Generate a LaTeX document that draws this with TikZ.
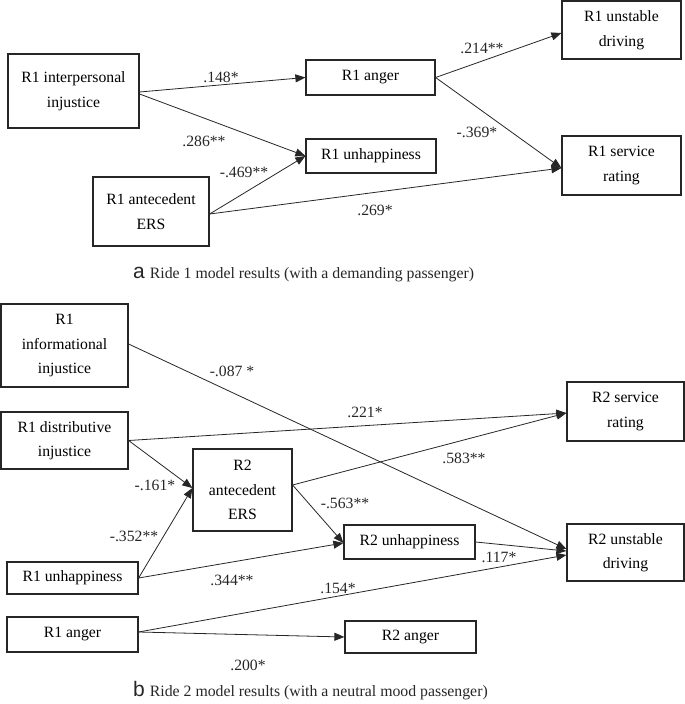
\documentclass[tikz,border=0pt]{standalone}
\usepackage{fontspec}
\setmainfont{Liberation Serif}
\setsansfont{Liberation Sans}
\usetikzlibrary{arrows.meta}
\begin{document}
\begin{tikzpicture}[x=1pt,y=-1pt,
  box/.style={draw=black!85,line width=1.2pt,align=center,inner sep=0pt,
    font=\fontsize{15.7}{24.5}\selectfont},
  lab/.style={inner sep=0pt,font=\fontsize{15.7}{18}\selectfont,text=black!85},
  arr/.style={draw=black!85,line width=0.8pt,-{Triangle[length=10pt,width=8pt]}},
  captext/.style={inner sep=0pt,anchor=base west,font=\fontsize{15.8}{18}\selectfont,text=black!85}]
\useasboundingbox (0,0) rectangle (685,704);
% ---------- part a ----------
\node[box,minimum width=131,minimum height=74] (interp) at (73.5,91) {R1 interpersonal\\injustice};
\node[box,minimum width=116,minimum height=69] (ersa) at (151,211.5) {R1 antecedent\\ERS};
\node[box,minimum width=129,minimum height=35] (angera) at (370.5,77.5) {R1 anger};
\node[box,minimum width=130,minimum height=34] (unhapa) at (371,156) {R1 unhappiness};
\node[box,minimum width=119,minimum height=58] (unsta) at (621.5,30) {R1 unstable\\driving};
\node[box,minimum width=119,minimum height=59] (serva) at (621.5,165.5) {R1 service\\rating};
\draw[arr] ([yshift=-1pt]interp.east) -- (angera.west);
\draw[arr] ([yshift=-3pt]interp.east) -- (unhapa.west);
\draw[arr] ([yshift=-2.5pt]ersa.east) -- (unhapa.west);
\draw[arr] ([yshift=-2.5pt]ersa.east) -- ([yshift=-2.5pt]serva.west);
\draw[arr] (angera.east) -- ([yshift=-3pt]unsta.west);
\draw[arr] (angera.east) -- ([yshift=-2.5pt]serva.west);
\node[lab] (l148) at (221,77) {.148*};
\node[lab] (l286) at (204,141) {.286**};
\node[lab] (l469) at (244,172) {-.469**};
\node[lab] (l214) at (482,48) {.214**};
\node[lab] (l369) at (477,132) {-.369*};
\node[lab] (l269) at (375,210) {.269*};
\node[captext] (capa) at (133,278) {{\sffamily\fontsize{21}{21}\selectfont a}\hspace{5pt}Ride 1 model results (with a demanding passenger)};
% ---------- part b ----------
\node[box,minimum width=127,minimum height=83] (info) at (64.5,345.5) {R1\\informational\\injustice};
\node[box,minimum width=127,minimum height=57] (dist) at (64.5,440.5) {R1 distributive\\injustice};
\node[box,minimum width=99,minimum height=82] (ersb) at (242.5,490) {R2\\antecedent\\ERS};
\node[box,minimum width=117,minimum height=59] (servb) at (625.5,411.5) {R2 service\\rating};
\node[box,minimum width=131,minimum height=34] (unhapb) at (409.5,542) {R2 unhappiness};
\node[box,minimum width=117,minimum height=57] (unstb) at (625.5,552.5) {R2 unstable\\driving};
\node[box,minimum width=131,minimum height=32] (unhap1) at (72.5,578) {R1 unhappiness};
\node[box,minimum width=131,minimum height=35] (anger1) at (72.5,634.5) {R1 anger};
\node[box,minimum width=131,minimum height=32] (angerb) at (410.5,637) {R2 anger};
\draw[arr] ([yshift=1.5pt]info.east) -- ([yshift=3.5pt]unstb.west);
\draw[arr] (dist.east) -- ([yshift=-1.5pt]servb.west);
\draw[arr] (dist.east) -- ([yshift=2pt]ersb.west);
\draw[arr] (unhap1.east) -- ([yshift=2pt]ersb.west);
\draw[arr] (unhap1.east) -- ([yshift=-1pt]unhapb.west);
\draw[arr] ([yshift=5pt]ersb.east) -- ([yshift=-1.5pt]servb.west);
\draw[arr] ([yshift=5pt]ersb.east) -- ([yshift=-1pt]unhapb.west);
\draw[arr] (unhapb.east) -- ([yshift=1.5pt]unstb.west);
\draw[arr] ([yshift=2.5pt]anger1.east) -- ([yshift=-2.5pt]unstb.west);
\draw[arr] ([yshift=2.5pt]anger1.east) -- (angerb.west);
\node[lab] (l087) at (232,371) {-.087 *};
\node[lab] (l221) at (365,412) {.221*};
\node[lab] (l583) at (464,458) {.583**};
\node[lab] (l161) at (155,485) {-.161*};
\node[lab] (l352) at (134,536) {-.352**};
\node[lab] (l344) at (232,580) {.344**};
\node[lab] (l563) at (345,503) {-.563**};
\node[lab] (l117) at (499,557) {.117*};
\node[lab] (l154) at (338,588) {.154*};
\node[lab] (l200) at (248,665) {.200*};
\node[captext] (capb) at (133,696) {{\sffamily\fontsize{21}{21}\selectfont b}\hspace{5pt}Ride 2 model results (with a neutral mood passenger)};
\end{tikzpicture}
\end{document}
